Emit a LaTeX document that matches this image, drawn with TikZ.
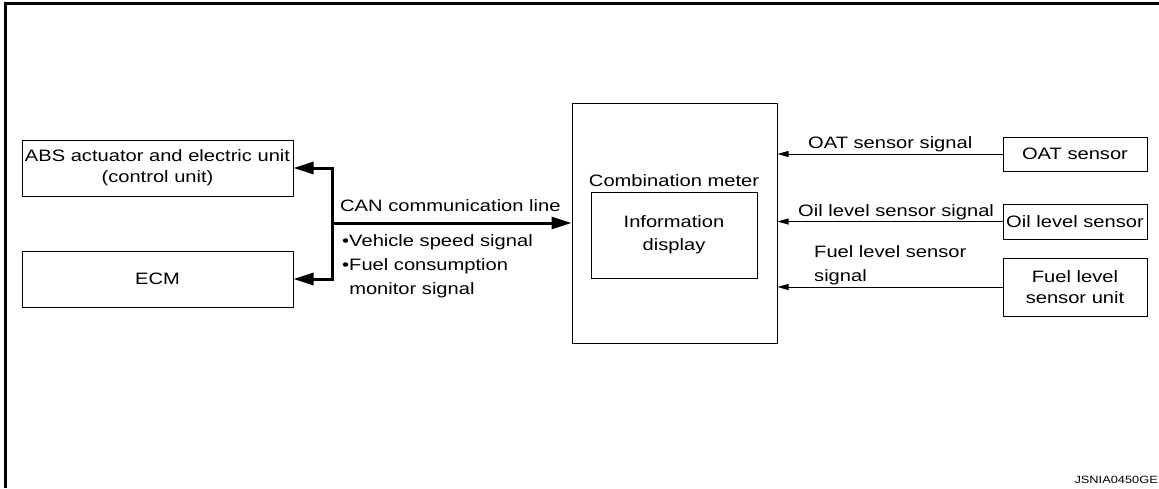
\documentclass[tikz,border=0pt]{standalone}
\usepackage{fontspec}
\setmainfont{Liberation Sans}[FakeStretch=1.22]
\usetikzlibrary{arrows.meta}
\newcommand\diagfont{\fontsize{16.5}{21}\selectfont}
\newcommand\listfont{\fontsize{16.5}{24}\selectfont}
\begin{document}
\begin{tikzpicture}[x=1pt,y=-1pt,
  box/.style={draw, line width=1pt, inner sep=0pt, align=center, font=\diagfont},
  lbl/.style={inner sep=0pt, font=\diagfont},
  bus/.style={line width=3pt, line join=miter},
  bigtip/.style={-{Triangle[length=20pt,width=12pt]}},
  sig/.style={line width=1pt, -{Triangle[length=11pt,width=6pt]}}]
\useasboundingbox (0,0) rectangle (1159,488);
% sheet frame (top and left edges)
\draw[line width=3pt] (5.5,488) -- (5.5,3.5) -- (1162,3.5);

% control units on the CAN bus
\node[box, minimum width=271, minimum height=56] (abs) at (157.5,168)
  {ABS actuator and electric unit\\(control unit)};
\node[box, minimum width=271, minimum height=56] (ecm) at (157.5,279) {ECM};

% combination meter
\node[box, minimum width=205, minimum height=240] (meter) at (674.5,223) {};
\node[lbl, anchor=base] (metertitle) at (674,186) {Combination meter};
\node[box, minimum width=166, minimum height=86] (info) at (674,235)
  {Information\\[2pt]display};

% sensors
\node[box, minimum width=144, minimum height=34] (oat) at (1075,154) {OAT sensor};
\node[box, minimum width=144, minimum height=35] (oil) at (1075,221.5) {Oil level sensor};
\node[box, minimum width=144, minimum height=58] (fuel) at (1075,287)
  {Fuel level\\sensor unit};

% CAN communication line
\coordinate (bt) at (332,168);
\coordinate (bb) at (332,279);
\coordinate (bj) at (332,223);
\draw[bus, bigtip] (bt) -- (bb) -- (ecm.east);
\draw[bus, bigtip] (bb) -- (bt) -- (abs.east);
\draw[bus, bigtip] (bj) -- (bj -| meter.west);
\node[lbl, anchor=base west] (canlbl) at (340,211) {CAN communication line};
\node[inner sep=0pt, font=\listfont, align=left, anchor=west] (canlist) at (342,266)
  {\textbullet Vehicle speed signal\\\textbullet Fuel consumption\\\hphantom{\textbullet}monitor signal};

% sensor signals
\draw[sig] (oat.west) -- (oat.west -| meter.east);
\draw[sig] (oil.west) -- (oil.west -| meter.east);
\draw[sig] (fuel.west) -- (fuel.west -| meter.east);
\node[lbl, anchor=base west] (oatlbl) at (808,148) {OAT sensor signal};
\node[lbl, anchor=base west] (oillbl) at (798,216) {Oil level sensor signal};
\node[inner sep=0pt, font=\listfont, align=left, anchor=west] (fuellbl) at (814,265)
  {Fuel level sensor\\signal};

% drawing number
\node[inner sep=0pt, font=\fontsize{10.5}{12}\selectfont, anchor=base east] (code) at (1158,483) {JSNIA0450GE};
\end{tikzpicture}
\end{document}
